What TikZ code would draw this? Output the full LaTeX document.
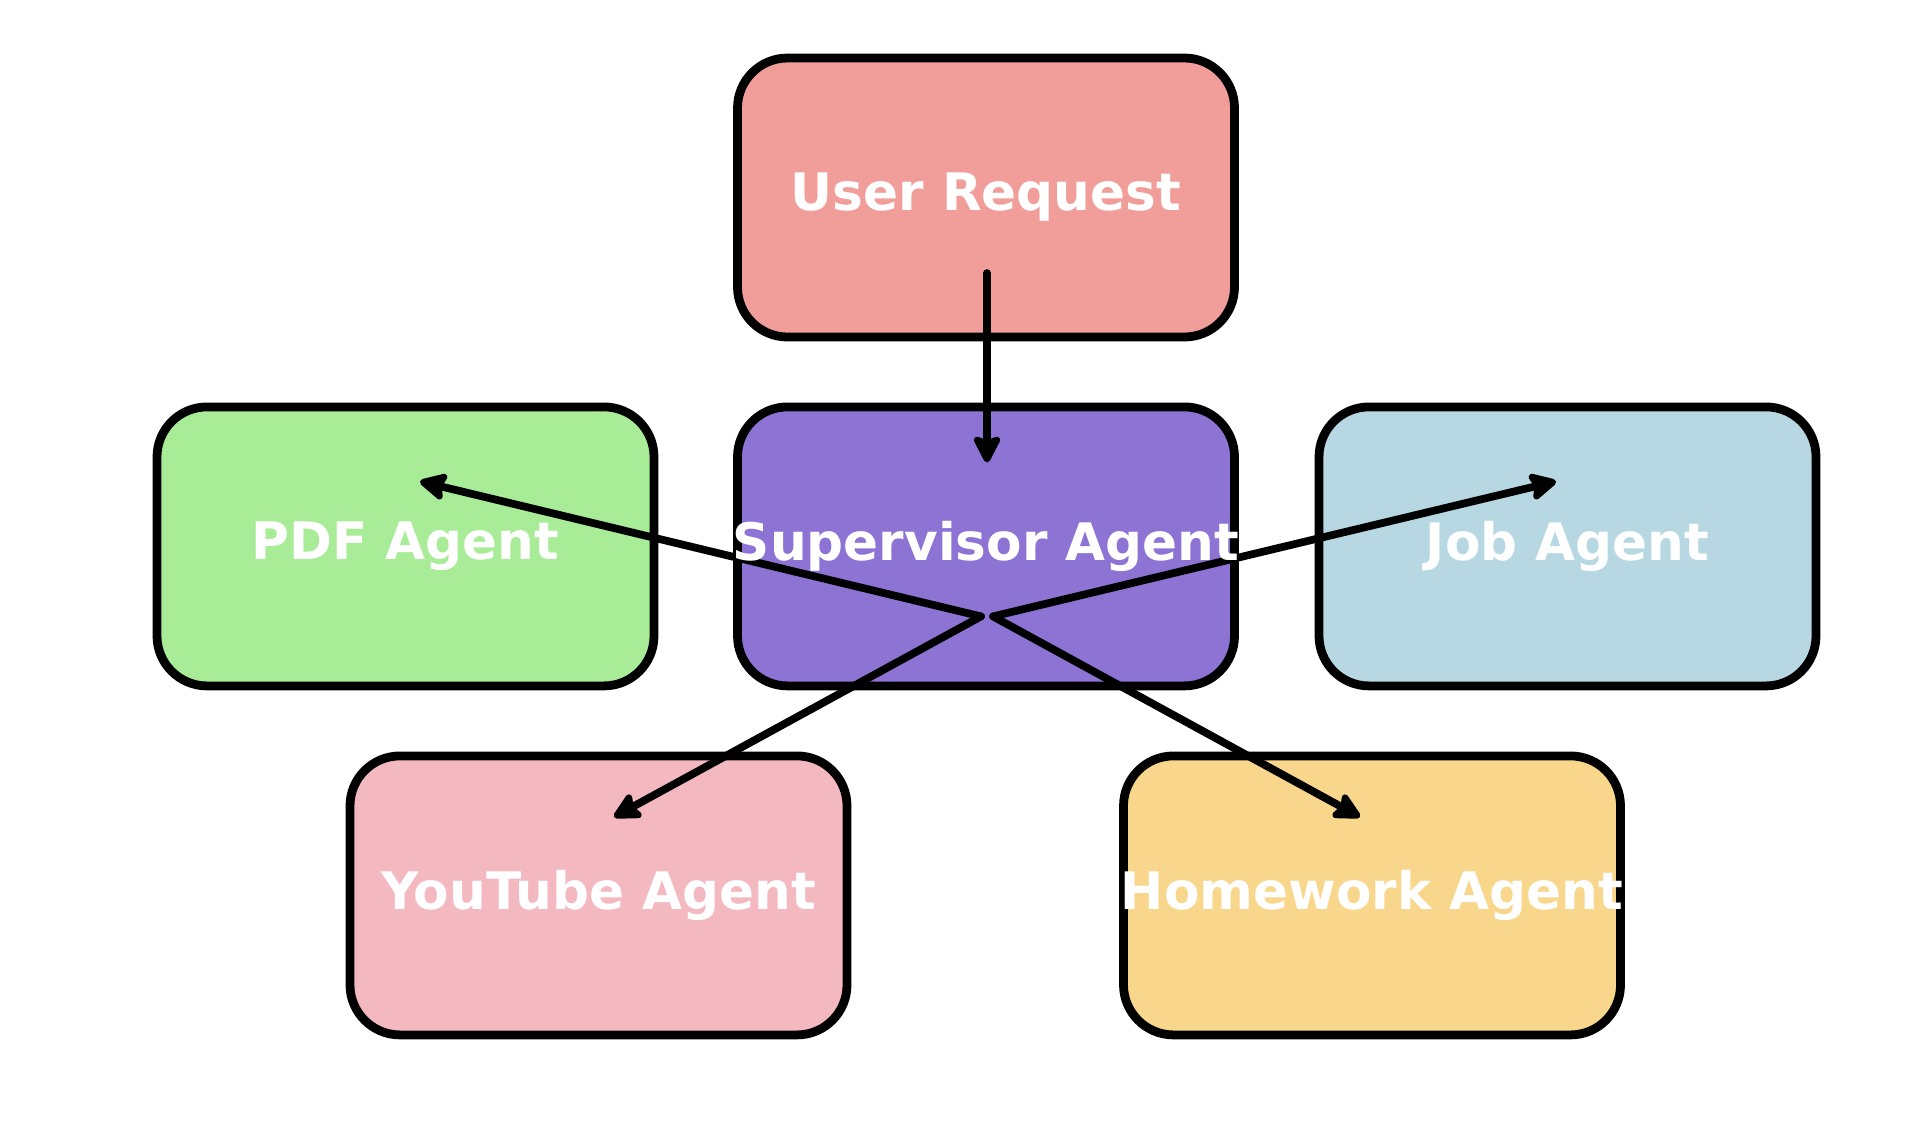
\documentclass[tikz,border=0pt]{standalone}
\usepackage{fontspec}
\setmainfont{DejaVu Sans}
\usepackage{tikz}
\usetikzlibrary{backgrounds,calc,arrows.meta}
\definecolor{requestRed}{RGB}{241,158,154}
\definecolor{supervisorPurple}{RGB}{140,115,212}
\definecolor{pdfGreen}{RGB}{168,236,152}
\definecolor{jobBlue}{RGB}{183,216,227}
\definecolor{youtubePink}{RGB}{244,184,193}
\definecolor{homeworkGold}{RGB}{248,214,140}
\def\boxW{2.485}
\def\boxH{1.395}

\begin{document}
\begin{tikzpicture}
      \tikzstyle{every node} = [font=\fontsize{14.7}{17}\selectfont\bfseries, text=white]
      \tikzstyle{agent} = [inner sep=0pt, minimum width=4.97cm, minimum height=2.79cm]
      \tikzstyle{box} = [draw=black, line width=2.5pt, rounded corners=0.5cm]
      \tikzstyle{link} = [-{Stealth[length=9pt,width=9pt,inset=1.5pt,round]}, line width=2.2pt, line cap=round, black]
      \useasboundingbox (0,0) rectangle (19.08,-11.22);
      \node[agent](supervisor) at (9.86,-5.464){Supervisor Agent};
      \node[agent, above of=supervisor, node distance=3.489cm](userRequest){User Request};
      \node[agent, left of=supervisor, node distance=5.805cm](pdfAgent){PDF Agent};
      \node[agent, right of=supervisor, node distance=5.815cm](jobAgent){Job Agent};
      \node[agent](youtubeAgent) at ($(supervisor)+(-3.875,-3.49)$){YouTube Agent};
      \node[agent](homeworkAgent) at ($(supervisor)+(3.86,-3.49)$){Homework Agent};
      % Arrow ends
      \coordinate (requestOut) at ($(userRequest)+(0.01,-0.755)$);
      \coordinate (supervisorIn) at ($(supervisor)+(0.01,0.84)$);
      \coordinate (supervisorLeft) at ($(supervisor)+(-0.05,-0.70)$);
      \coordinate (supervisorRight) at ($(supervisor)+(0.07,-0.70)$);
      \coordinate (pdfIn) at ($(pdfAgent)+(0.145,0.65)$);
      \coordinate (jobIn) at ($(jobAgent)+(-0.115,0.65)$);
      \coordinate (youtubeIn) at ($(youtubeAgent)+(0.155,0.784)$);
      \coordinate (homeworkIn) at ($(homeworkAgent)+(-0.12,0.784)$);
      % Boxes and connections, under the labels
      \begin{pgfonlayer}{background}
        \filldraw[box, fill=requestRed]
        ($(userRequest)+(-\boxW,-\boxH)$) rectangle ($(userRequest)+(\boxW,\boxH)$);
        \filldraw[box, fill=supervisorPurple]
        ($(supervisor)+(-\boxW,-\boxH)$) rectangle ($(supervisor)+(\boxW,\boxH)$);
        \filldraw[box, fill=pdfGreen]
        ($(pdfAgent)+(-\boxW,-\boxH)$) rectangle ($(pdfAgent)+(\boxW,\boxH)$);
        \filldraw[box, fill=jobBlue]
        ($(jobAgent)+(-\boxW,-\boxH)$) rectangle ($(jobAgent)+(\boxW,\boxH)$);
        \filldraw[box, fill=youtubePink]
        ($(youtubeAgent)+(-\boxW,-\boxH)$) rectangle ($(youtubeAgent)+(\boxW,\boxH)$);
        \filldraw[box, fill=homeworkGold]
        ($(homeworkAgent)+(-\boxW,-\boxH)$) rectangle ($(homeworkAgent)+(\boxW,\boxH)$);
        \draw[link] (requestOut) -- (supervisorIn);
        \draw[link] (supervisorLeft) -- (pdfIn);
        \draw[link] (supervisorRight) -- (jobIn);
        \draw[link] (supervisorLeft) -- (youtubeIn);
        \draw[link] (supervisorRight) -- (homeworkIn);
      \end{pgfonlayer}
\end{tikzpicture}
\end{document}
